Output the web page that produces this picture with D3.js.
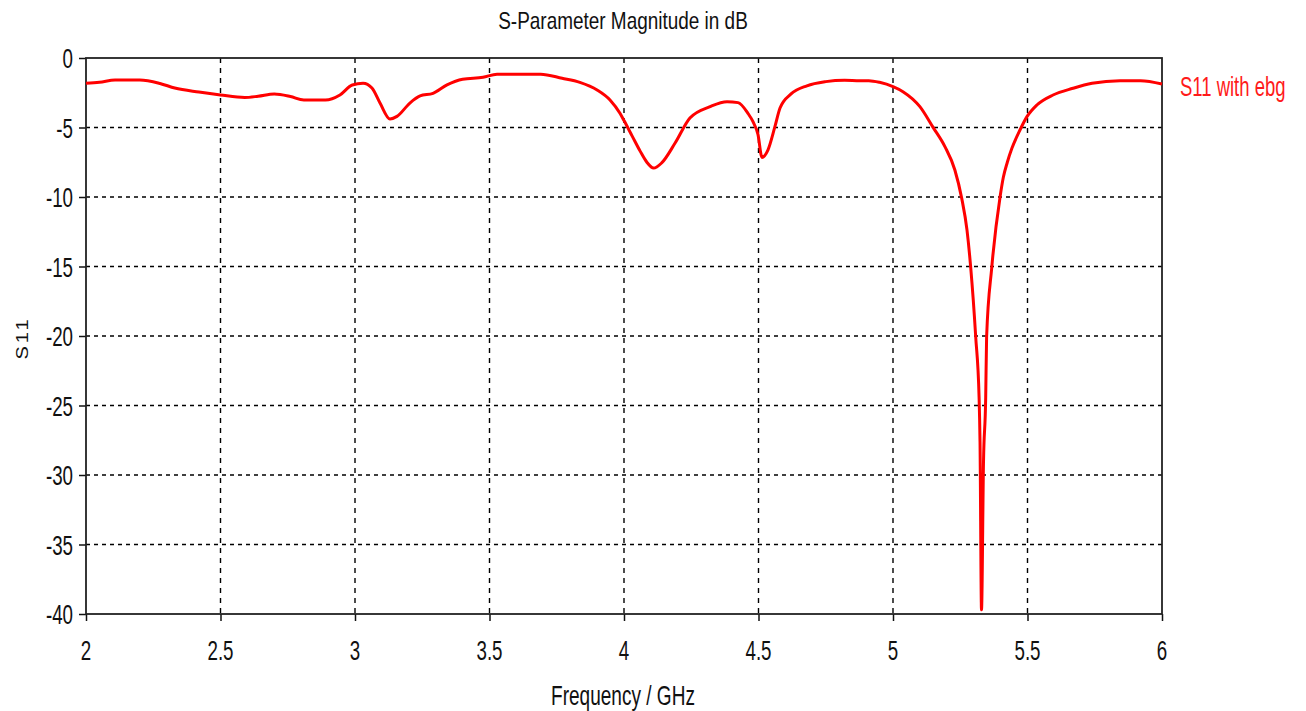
<!DOCTYPE html>
<html>
<head>
<meta charset="utf-8">
<script src="https://cdn.jsdelivr.net/npm/d3@7"></script>
<style>
  html, body { margin: 0; padding: 0; background: #fff; }
  text { font-family: "Liberation Sans", Arial, sans-serif; }
</style>
</head>
<body>
<div id="chart"></div>
<script>
// Frequency (GHz) and S11 (dB)
var freq = [2.000, 2.05, 2.108, 2.2, 2.275, 2.33, 2.42, 2.5, 2.59, 2.64, 2.70, 2.76, 2.81, 2.89, 2.944,
    2.99, 3.03, 3.063, 3.093, 3.13, 3.156, 3.204, 3.242, 3.29, 3.342, 3.40, 3.476, 3.528, 3.69, 3.77,
    3.836, 3.90, 3.948, 3.985, 4.0, 4.03, 4.06, 4.085, 4.11, 4.14, 4.19, 4.245, 4.32, 4.383, 4.424, 4.46,
    4.48, 4.498, 4.513, 4.535, 4.561, 4.58, 4.62, 4.68, 4.75, 4.82, 4.877, 4.91, 4.95, 5.0, 5.037, 5.1,
    5.149, 5.193, 5.23, 5.2555, 5.275, 5.289, 5.3075, 5.32, 5.3235, 5.329, 5.3365, 5.3446, 5.348, 5.367,
    5.398, 5.41, 5.425, 5.442, 5.472, 5.498, 5.535, 5.595, 5.669, 5.74, 5.844, 5.92, 6.0];
var s11 = [-1.82, -1.75, -1.58, -1.58, -1.83, -2.16, -2.45, -2.66, -2.84, -2.75, -2.59, -2.77, -3.02, -3.02, -2.66,
    -1.94, -1.82, -2.16, -3.24, -4.39, -4.2, -3.24, -2.73, -2.54, -1.94, -1.53, -1.39, -1.17, -1.17, -1.46,
    -1.75, -2.3, -3.02, -3.98, -4.5, -5.6, -6.7, -7.5, -7.92, -7.55, -6.12, -4.32, -3.5, -3.14, -3.21, -3.96,
    -4.6, -5.5, -7.15, -6.62, -4.94, -3.6, -2.6, -2.0, -1.7, -1.6, -1.63, -1.63, -1.75, -2.06, -2.42, -3.5,
    -4.99, -6.38, -8.06, -10.1, -12.37, -15.1, -20.07, -24.4, -27.6, -39.7, -29.0, -24.4, -20.07, -15.1,
    -10.0, -8.6, -7.5, -6.5, -5.18, -4.22, -3.38, -2.66, -2.18, -1.82, -1.63, -1.63, -1.87];

var xTicks = [2, 2.5, 3, 3.5, 4, 4.5, 5, 5.5, 6];
var yTicks = [0, -5, -10, -15, -20, -25, -30, -35, -40];

var chartTitle = "S-Parameter Magnitude in dB";
var xLabel = "Frequency / GHz";
var yLabel = "S11";
var seriesName = "S11 with ebg";

var W = 1306, H = 711;
var margin = { top: 58, right: 144, bottom: 97, left: 86 };
var width = W - margin.left - margin.right;
var height = H - margin.top - margin.bottom;

var svg = d3.select("#chart").append("svg")
    .attr("width", W)
    .attr("height", H);

var g = svg.append("g")
    .attr("transform", "translate(" + margin.left + "," + margin.top + ")");

var x = d3.scaleLinear().domain([2, 6]).range([0, width]);
var y = d3.scaleLinear().domain([-40, 0]).range([height, 0]);

// narrow text: the reference font is condensed
function narrowText(parent, px, py, str, size, sx, anchor, fill) {
    return parent.append("text")
        .attr("transform", "translate(" + px + "," + py + ") scale(" + sx + ",1)")
        .attr("text-anchor", anchor || "start")
        .style("font-size", size + "px")
        .style("fill", fill || "#111")
        .text(str);
}

// grid lines
g.selectAll(".hgrid")
    .data(yTicks.filter(function(d){ return d !== 0 && d !== -40; }))
    .enter().append("line")
    .attr("class", "hgrid")
    .attr("x1", 0).attr("x2", width)
    .attr("y1", function(d){ return y(d); })
    .attr("y2", function(d){ return y(d); })
    .style("stroke", "#000")
    .style("stroke-width", 1.4)
    .style("stroke-dasharray", "4,4");

g.selectAll(".vgrid")
    .data(xTicks.filter(function(d){ return d !== 2 && d !== 6; }))
    .enter().append("line")
    .attr("class", "vgrid")
    .attr("y1", 0).attr("y2", height)
    .attr("x1", function(d){ return x(d); })
    .attr("x2", function(d){ return x(d); })
    .style("stroke", "#000")
    .style("stroke-width", 1.4)
    .style("stroke-dasharray", "5,5");

// axes: ticks only, labels drawn separately
var xAxis = g.append("g")
    .attr("transform", "translate(0," + height + ")")
    .call(d3.axisBottom(x).tickValues(xTicks).tickSize(7).tickFormat(""));
var yAxis = g.append("g")
    .call(d3.axisLeft(y).tickValues(yTicks).tickSize(7).tickFormat(""));
[xAxis, yAxis].forEach(function(a){
    a.selectAll("line").style("stroke", "#111").style("stroke-width", 1.5);
    a.select(".domain").remove();
});

// tick labels
xTicks.forEach(function(t){
    narrowText(g, x(t), height + 46, d3.format("")(t), 28, 0.67, "middle");
});
yTicks.forEach(function(t){
    narrowText(g, -13, y(t) + 10, String(t), 28, 0.67, "end");
});

// frame
g.append("rect")
    .attr("x", 0).attr("y", 0)
    .attr("width", width).attr("height", height)
    .style("fill", "none")
    .style("stroke", "#222")
    .style("stroke-width", 1.8);

// series
var pts = freq.map(function(f, i){ return { f: f, v: s11[i] }; });
var line = d3.line()
    .x(function(d){ return x(d.f); })
    .y(function(d){ return y(d.v); })
    .curve(d3.curveMonotoneX);

g.append("path")
    .datum(pts)
    .attr("d", line)
    .style("fill", "none")
    .style("stroke", "#ff0000")
    .style("stroke-width", 3)
    .style("stroke-linejoin", "round");

// titles and labels
narrowText(svg, 623, 29, chartTitle, 24, 0.79, "middle");
narrowText(svg, 623, 705, xLabel, 28, 0.68, "middle");
narrowText(svg, margin.left + width + 18, 96, seriesName, 28, 0.66, "start", "#ff1a1a");

svg.append("text")
    .attr("transform", "translate(28,338) rotate(-90) scale(1,0.85)")
    .attr("text-anchor", "middle")
    .style("font-size", "20px")
    .style("letter-spacing", "3px")
    .style("fill", "#111")
    .text(yLabel);
</script>
</body>
</html>
